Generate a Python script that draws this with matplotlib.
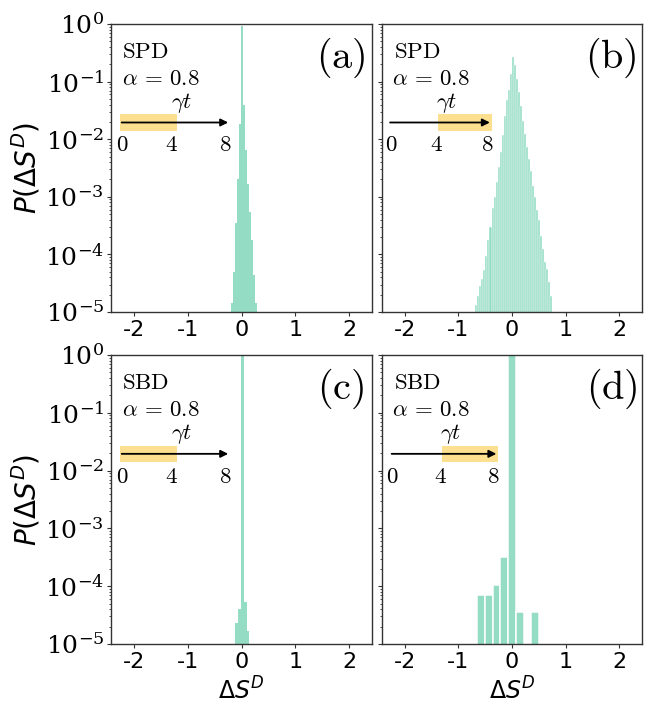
import numpy as np
import matplotlib
matplotlib.use("Agg")
import matplotlib.pyplot as plt
from matplotlib.patches import Rectangle
from matplotlib.ticker import LogLocator, NullFormatter

# ---- histogram data: probability of each entropy-production bin ----
# (a), (b): common bin grid
ab_bin_start = -0.68
ab_bin_width = 0.0373

# (a) SPD, early window: bins 13..25 of the grid
a_first_bin = 13
a_probs = [1.4e-5, 5.0e-5, 3.5e-4, 2.0e-3, 1.8e-2,
           0.93,
           3.9e-2, 6.5e-3, 1.7e-3, 5.5e-4, 1.8e-4, 4.4e-5, 1.45e-5]

# (b) SPD, late window: bins 0..37 of the grid
b_first_bin = 0
b_probs = [1.3e-5, 1.9e-5, 2.8e-5, 3.8e-5, 5.4e-5, 9.3e-5, 1.8e-4, 3.0e-4,
           6.3e-4, 1.0e-3, 1.8e-3, 3.3e-3, 6.0e-3, 1.2e-2, 2.5e-2, 4.8e-2,
           7.1e-2, 0.138,
           0.263,
           0.195, 0.111, 0.065, 0.037, 0.021, 1.23e-2, 7.4e-3, 4.6e-3, 2.8e-3,
           1.55e-3, 9.8e-4, 6.0e-4, 4.0e-4, 2.1e-4, 1.23e-4, 7.4e-5, 5.6e-5,
           3.3e-5, 1.9e-5]

# (c) SBD, early window
c_centers = [-0.089, -0.037, 0.015, 0.067, 0.119]
c_probs = [2.3e-5, 4.1e-5, 0.9998, 5.4e-5, 1.7e-5]
c_width = 0.052

# (d) SBD, late window
d_centers = [-0.58, -0.435, -0.29, -0.145, 0.0, 0.145, 0.29, 0.435]
d_probs = [6.9e-5, 6.9e-5, 1.05e-4, 3.2e-4, 0.9994, 3.5e-5, 0.0, 3.5e-5]
d_width = 0.145

protocols = ["SPD", "SPD", "SBD", "SBD"]
panel_tags = ["(a)", "(b)", "(c)", "(d)"]
windows = [(0, 4), (4, 8), (0, 4), (4, 8)]
alpha_value = 0.8
x_ticks = [-2, -1, 0, 1, 2]
x_tick_labels = ["-2", "-1", "0", "1", "2"]
y_exponents = [0, -1, -2, -3, -4, -5]

BAR_COLOR = "#94dcc3"
WINDOW_COLOR = "#fde08f"
SPINE_COLOR = "#333333"


def grid_centers(first, n):
    return ab_bin_start + ab_bin_width * (np.arange(first, first + n) + 0.5)


fig = plt.figure(figsize=(6.52, 7.04), dpi=100)
W, H = 652, 704


def px_axes(left, top, right, bottom):
    return fig.add_axes([left / W, 1 - bottom / H, (right - left) / W, (bottom - top) / H])


axes = [px_axes(111, 24, 372, 312), px_axes(382, 24, 642, 312),
        px_axes(111, 355, 372, 644), px_axes(382, 355, 642, 644)]

series = [
    (grid_centers(a_first_bin, len(a_probs)), a_probs, ab_bin_width, 0.0),
    (grid_centers(b_first_bin, len(b_probs)), b_probs, ab_bin_width, 0.3),
    (c_centers, c_probs, c_width, 0.0),
    (d_centers, d_probs, d_width, 1.1),
]

# inset time-axis geometry per panel: (origin x, length of 8 units) in axes coords
inset_geom = [(0.041, 0.408), (0.031, 0.384), (0.041, 0.408), (0.037, 0.403)]
tag_x = [0.975, 0.98, 0.97, 0.985]
TXT = 16.5

for i, ax in enumerate(axes):
    centers, probs, width, elw = series[i]
    ax.set_yscale("log")
    ax.bar(centers, probs, width=width, bottom=1e-7, color=BAR_COLOR,
           edgecolor="white", linewidth=elw, zorder=2)
    ax.set_xlim(-2.42, 2.42)
    ax.set_ylim(1e-5, 1.0)

    ax.set_xticks(x_ticks)
    ax.set_xticklabels(x_tick_labels, fontsize=16, family="DejaVu Sans")
    ax.yaxis.set_major_locator(LogLocator(base=10, numticks=10))
    ax.yaxis.set_minor_locator(LogLocator(base=10, subs=np.arange(2, 10), numticks=20))
    ax.yaxis.set_minor_formatter(NullFormatter())
    ax.set_yticks([10.0 ** e for e in y_exponents])
    if i % 2 == 0:
        ax.set_yticklabels([r"$\mathdefault{10^{%d}}$" % e for e in y_exponents],
                           fontsize=18, family="DejaVu Serif")
        ax.set_ylabel(r"$P(\Delta S^D)$", fontsize=20, labelpad=2)
    else:
        ax.set_yticklabels([])
    if i >= 2:
        ax.set_xlabel(r"$\Delta S^D$", fontsize=17)
        ax.xaxis.set_label_coords(0.5, -(677.6 - 644) / 289)

    ax.tick_params(axis="x", which="major", direction="out", length=3,
                   width=0.8, colors=SPINE_COLOR, labelcolor="black", pad=2.5)
    ax.tick_params(axis="y", which="major", direction="out", length=3,
                   width=0.8, colors=SPINE_COLOR, labelcolor="black", pad=2)
    ax.tick_params(axis="y", which="minor", direction="out", length=1.5,
                   width=0.6, colors=SPINE_COLOR)
    for sp in ax.spines.values():
        sp.set_color(SPINE_COLOR)
        sp.set_linewidth(1.0)

    # annotations
    tr = ax.transAxes
    ax.text(0.041 if i % 2 == 0 else 0.046, 0.881, r"$\mathrm{%s}$" % protocols[i],
            transform=tr, fontsize=TXT, math_fontfamily="cm", ha="left", va="baseline")
    ax.text(0.041 if i % 2 == 0 else 0.037, 0.788, r"$\alpha\,=\,%.1f$" % alpha_value,
            transform=tr, fontsize=TXT, math_fontfamily="cm", ha="left", va="baseline")
    ax.text(tag_x[i], 0.884, r"$\mathrm{%s}$" % panel_tags[i], transform=tr,
            fontsize=29, math_fontfamily="cm", ha="right", va="center")

    x0, span = inset_geom[i]
    unit = span / 8.0
    t_start, t_end = windows[i]
    ax.add_patch(Rectangle((x0 + (t_start - 0.15) * unit, 0.630),
                           (t_end - t_start + 0.3) * unit, 0.056,
                           transform=tr, facecolor=WINDOW_COLOR, edgecolor="none",
                           zorder=3, clip_on=False))
    ax.annotate("", xy=(x0 + 8 * unit, 0.658), xytext=(x0, 0.658),
                xycoords=tr, textcoords=tr,
                arrowprops=dict(arrowstyle="-|>", color="black", lw=1.3,
                                mutation_scale=11, shrinkA=0, shrinkB=0),
                zorder=4)
    ax.text(x0 + 4 * unit + 0.025, 0.708, r"$\gamma t$", transform=tr, fontsize=TXT,
            math_fontfamily="cm", ha="center", va="baseline", zorder=4)
    for t in (0, 4, 8):
        ax.text(x0 + t * unit - (0.012 if t else -0.004), 0.580, r"$%d$" % t,
                transform=tr, fontsize=TXT, math_fontfamily="cm",
                ha="center", va="center", zorder=4)

fig.savefig("out.png", dpi=100)
